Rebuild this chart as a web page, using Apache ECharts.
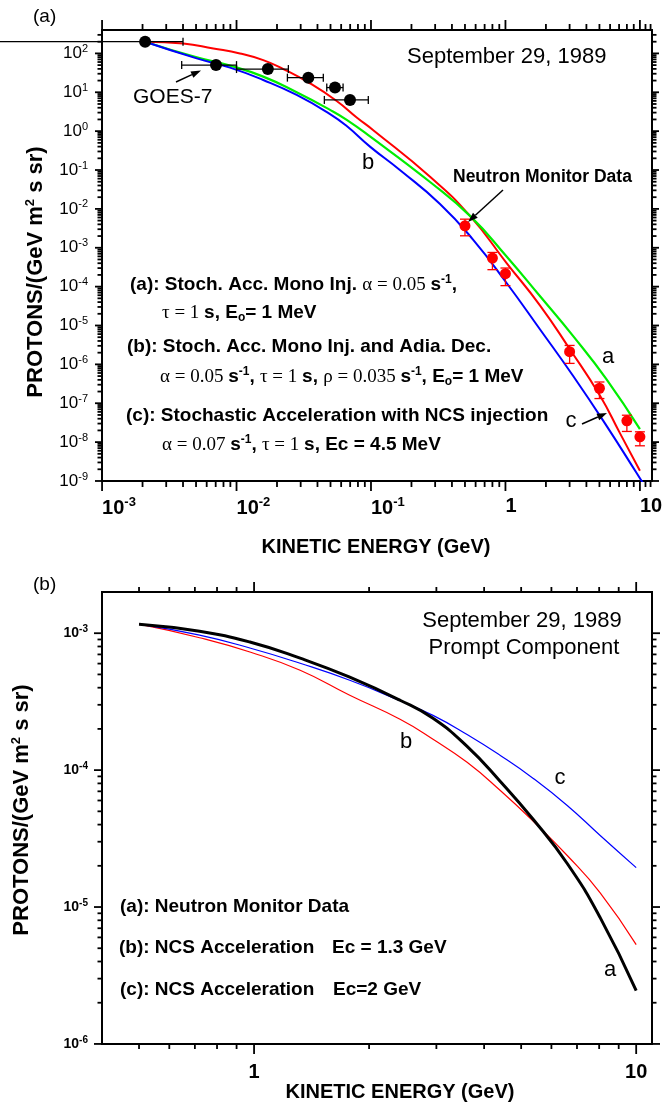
<!DOCTYPE html>
<html>
<head>
<meta charset="utf-8">
<script src="https://cdn.jsdelivr.net/npm/echarts@6/dist/echarts.min.js"></script>
<style>
html, body { margin: 0; padding: 0; background: #fff; }
#chart { width: 663px; height: 1106px; }
</style>
</head>
<body>
<div id="chart"></div>
<script>
// ===== panel (a) =====
// GOES-7 points with x error bars
var goesX   = [0.00209, 0.00704, 0.0171, 0.0342, 0.054, 0.0698];
var goesY   = [200, 50, 39.6, 23.8, 13.2, 6.35];
var goesXLo = [0.00017, 0.00391, 0.01, 0.0239, 0.0469, 0.045];
var goesXHi = [0.004, 0.01, 0.0243, 0.0442, 0.062, 0.0955];

// neutron monitor points with y error bars
var nmX   = [0.5, 0.8, 1.0, 3.0, 5.0, 8.0, 10.0];
var nmY   = [3.66e-3, 5.44e-4, 2.15e-4, 2.12e-6, 2.43e-7, 3.52e-8, 1.37e-8];
var nmYHi = [5.44e-3, 7.57e-4, 3.01e-4, 3.07e-6, 3.52e-7, 4.92e-8, 1.84e-8];
var nmYLo = [2.03e-3, 2.73e-4, 1.06e-4, 1.06e-6, 1.32e-7, 1.88e-8, 8.04e-9];

// model curves
var redAX = [0.00209, 0.00402, 0.00672, 0.0106, 0.0158, 0.0223, 0.0352, 0.0556, 0.0783, 0.104, 0.275, 0.545, 1.02, 1.81, 3.02, 5.04, 7.10, 10];
var redAY = [200, 180, 134, 100, 67.3, 39.6, 17.0, 5.98, 2.25, 1.06, 0.0673, 6.61e-3, 4.05e-4, 3.26e-5, 2.42e-6, 1.58e-7, 1.70e-8, 1.84e-9];
var greenAX = [0.00209, 0.00506, 0.00895, 0.0158, 0.0280, 0.0496, 0.0660, 0.0983, 0.275, 0.545, 1.02, 1.81, 3.19, 5.65, 10];
var greenAY = [200, 79, 48.4, 25.3, 10.0, 3.52, 1.95, 0.731, 0.0492, 6.61e-3, 5.98e-4, 5.64e-5, 5.32e-6, 4.12e-7, 2.15e-8];
var blueAX = [0.00209, 0.00506, 0.00895, 0.0158, 0.0280, 0.0496, 0.0660, 0.0983, 0.164, 0.326, 0.576, 1.02, 1.81, 3.19, 5.65, 9.45, 10.5];
var blueAY = [200, 74.5, 43.0, 20.7, 8.53, 2.75, 1.35, 0.40, 0.1, 0.0134, 1.60e-3, 1.24e-4, 7.89e-6, 5.01e-7, 2.62e-8, 1.6e-9, 9e-10];

var aXTicks  = [0.001, 0.01, 0.1, 1, 10];
var aXLabels = ['10^-3', '10^-2', '10^-1', '1', '10'];
var aYTicks  = [1e-9, 1e-8, 1e-7, 1e-6, 1e-5, 1e-4, 1e-3, 1e-2, 1e-1, 1, 10, 100];
var aYLabels = ['10^-9', '10^-8', '10^-7', '10^-6', '10^-5', '10^-4', '10^-3', '10^-2', '10^-1', '10^0', '10^1', '10^2'];

// ===== panel (b) =====
var blackBX = [0.5, 0.72, 0.98, 1.32, 1.78, 2.41, 2.94, 3.61, 4.41, 5.38, 6.6, 8.05, 10];
var blackBY = [1.164e-3, 1.034e-3, 8.59e-4, 6.57e-4, 4.77e-4, 3.24e-4, 2.39e-4, 1.49e-4, 8.27e-5, 4.36e-5, 2.08e-5, 8.37e-6, 2.45e-6];
var redBX = [0.5, 0.72, 0.98, 1.32, 1.78, 2.41, 2.94, 3.61, 4.41, 5.38, 6.6, 8.05, 10];
var redBY = [1.164e-3, 9.27e-4, 7.26e-4, 5.36e-4, 3.52e-4, 2.35e-4, 1.68e-4, 1.14e-4, 7.10e-5, 4.23e-5, 2.38e-5, 1.27e-5, 5.31e-6];
var blueBX = [0.5, 0.72, 0.98, 1.32, 1.78, 2.41, 2.94, 3.61, 4.41, 5.38, 6.6, 8.05, 10];
var blueBY = [1.164e-3, 9.67e-4, 7.77e-4, 6.03e-4, 4.53e-4, 3.21e-4, 2.51e-4, 1.82e-4, 1.28e-4, 8.70e-5, 5.52e-5, 3.33e-5, 1.94e-5];

var bXTicks  = [1, 10];
var bXLabels = ['1', '10'];
var bYTicks  = [1e-6, 1e-5, 1e-4, 1e-3];
var bYLabels = ['10^-6', '10^-5', '10^-4', '10^-3'];

var SANS = '"Liberation Sans", Arial, Helvetica, sans-serif';
var SERIF = '"Liberation Serif", "Times New Roman", serif';

function pairs(xs, ys) {
	return xs.map(function (x, i) { return [x, ys[i]]; });
}

// minor ticks 2..9 of each decade
function minors(e0, e1, extra) {
	var out = [];
	for (var e = e0; e <= e1; e++) {
		for (var k = 2; k <= 9; k++) out.push(+(k * Math.pow(10, e)).toPrecision(3));
	}
	return out.concat(extra || []);
}

function labelFmt(ticks, labels) {
	return function (v) {
		var i = ticks.findIndex(function (t) { return Math.abs(Math.log10(t / v)) < 0.01; });
		if (i < 0) return '';
		var p = labels[i].split('^');
		return p.length > 1 ? '{b|' + p[0] + '}{s|' + p[1] + '}' : '{b|' + p[0] + '}';
	};
}

function mkAxis(grid, pos, min, max, values, label) {
	return {
		type: 'log', logBase: 10, gridIndex: grid, position: pos,
		min: min, max: max,
		axisLine: { show: false, onZero: false },
		axisTick: { show: false },
		axisLabel: Object.assign({ show: true, customValues: values }, label),
		splitLine: { show: false },
		minorTick: { show: false },
		minorSplitLine: { show: false }
	};
}

var aXMin = 0.000999, aXMax = 12.3, aYMin = 0.999e-9, aYMax = 400;
var bXMin = 0.4, bXMax = 11, bYMin = 0.999e-6, bYMax = 2e-3;

var aXLabelOpt = {
	margin: 15, align: 'left', formatter: labelFmt(aXTicks, aXLabels),
	rich: {
		b: { fontFamily: SANS, fontWeight: 'bold', fontSize: 20, color: '#000' },
		s: { fontFamily: SANS, fontWeight: 'bold', fontSize: 13, color: '#000', padding: [0, 0, 11, 0] }
	}
};
var aYLabelOpt = {
	margin: 14, formatter: labelFmt(aYTicks, aYLabels),
	rich: {
		b: { fontFamily: SANS, fontSize: 17, color: '#000' },
		s: { fontFamily: SANS, fontSize: 11, color: '#000', padding: [0, 0, 9, 0] }
	}
};
var bXLabelOpt = {
	margin: 18, formatter: labelFmt(bXTicks, bXLabels),
	rich: { b: { fontFamily: SANS, fontWeight: 'bold', fontSize: 20, color: '#000' } }
};
var bYLabelOpt = {
	margin: 14, formatter: labelFmt(bYTicks, bYLabels),
	rich: {
		b: { fontFamily: SANS, fontWeight: 'bold', fontSize: 14, color: '#000' },
		s: { fontFamily: SANS, fontWeight: 'bold', fontSize: 10, color: '#000', padding: [0, 0, 8, 0] }
	}
};

function curve(ai, xs, ys, color, width) {
	return {
		type: 'line', xAxisIndex: ai, yAxisIndex: ai, data: pairs(xs, ys),
		showSymbol: false, smooth: 0.5, z: 3,
		lineStyle: { color: color, width: width }, itemStyle: { color: color }
	};
}

function txt(x, y, text, opt) {
	return {
		type: 'text', x: x, y: y, z: 50,
		style: Object.assign({
			text: text, fill: '#000', fontFamily: SANS, fontSize: 22,
			align: 'left', verticalAlign: 'middle'
		}, opt || {})
	};
}

function seg(x1, y1, x2, y2, w) {
	return { type: 'line', z: 50, shape: { x1: x1, y1: y1, x2: x2, y2: y2 },
		style: { stroke: '#000', lineWidth: w || 1.5 } };
}

function arrow(x1, y1, x2, y2) {
	var ang = Math.atan2(y2 - y1, x2 - x1), L = 10, W = 3.5;
	var bx = x2 - L * Math.cos(ang), by = y2 - L * Math.sin(ang);
	var nx = -Math.sin(ang) * W, ny = Math.cos(ang) * W;
	return [
		seg(x1, y1, bx, by, 1.5),
		{ type: 'polygon', z: 50, shape: { points: [[x2, y2], [bx + nx, by + ny], [bx - nx, by - ny]] }, style: { fill: '#000' } }
	];
}

var annRich = {
	b: { fontFamily: SANS, fontWeight: 'bold', fontSize: 19 },
	g: { fontFamily: SERIF, fontSize: 19 },
	s: { fontFamily: SANS, fontWeight: 'bold', fontSize: 12, padding: [0, 0, 10, 0] },
	o: { fontFamily: SANS, fontWeight: 'bold', fontSize: 12, padding: [10, 0, 0, 0] }
};
var titleRich = {
	t: { fontFamily: SANS, fontWeight: 'bold', fontSize: 22 },
	s: { fontFamily: SANS, fontWeight: 'bold', fontSize: 13, padding: [0, 0, 12, 0] }
};

var graphics = [
	txt(33, 17, '(a)', { fontSize: 19 }),
	txt(33, 585, '(b)', { fontSize: 19 }),
	txt(407, 57, 'September 29, 1989'),
	txt(133, 97, 'GOES-7', { fontSize: 21 }),
	txt(368, 163, 'b', { align: 'center' }),
	txt(453, 177, 'Neutron Monitor Data', { fontWeight: 'bold', fontSize: 17.5 }),
	txt(608, 357, 'a', { align: 'center' }),
	txt(571, 421, 'c', { align: 'center' }),
	txt(130, 285, '{b|(a): Stoch. Acc. Mono Inj. }{g|α = 0.05 }{b|s}{s|-1}{b|,}', { rich: annRich }),
	txt(162, 313, '{g|τ = 1 }{b|s, E}{o|o}{b|= 1 MeV}', { rich: annRich }),
	txt(127, 347, '{b|(b): Stoch. Acc. Mono Inj. and Adia. Dec.}', { rich: annRich }),
	txt(160, 377, '{g|α = 0.05 }{b|s}{s|-1}{b|, }{g|τ = 1 }{b|s, }{g|ρ = 0.035 }{b|s}{s|-1}{b|, E}{o|o}{b|= 1 MeV}', { rich: annRich }),
	txt(126, 416, '{b|(c): Stochastic Acceleration with NCS injection}', { rich: annRich }),
	txt(162, 445, '{g|α = 0.07 }{b|s}{s|-1}{b|, }{g|τ = 1 }{b|s, Ec = 4.5 MeV}', { rich: annRich }),
	txt(376, 547, 'KINETIC ENERGY (GeV)', { fontWeight: 'bold', fontSize: 20, align: 'center' }),
	{ type: 'text', x: 36, y: 272, rotation: Math.PI / 2, z: 50,
	  style: { text: '{t|PROTONS/(GeV m}{s|2}{t| s sr)}', rich: titleRich, fill: '#000', align: 'center', verticalAlign: 'middle' } },

	txt(522, 621, 'September 29, 1989', { align: 'center' }),
	txt(524, 648, 'Prompt Component', { align: 'center' }),
	txt(406, 742, 'b', { align: 'center' }),
	txt(560, 778, 'c', { align: 'center' }),
	txt(610, 970, 'a', { align: 'center' }),
	txt(120, 907, '(a): Neutron Monitor Data', { fontWeight: 'bold', fontSize: 19 }),
	txt(119, 948, '(b): NCS Acceleration', { fontWeight: 'bold', fontSize: 19 }),
	txt(332, 948, 'Ec = 1.3 GeV', { fontWeight: 'bold', fontSize: 19 }),
	txt(120, 990, '(c): NCS Acceleration', { fontWeight: 'bold', fontSize: 19 }),
	txt(333, 990, 'Ec=2 GeV', { fontWeight: 'bold', fontSize: 19 }),
	txt(400, 1092, 'KINETIC ENERGY (GeV)', { fontWeight: 'bold', fontSize: 20, align: 'center' }),
	{ type: 'text', x: 22, y: 810, rotation: Math.PI / 2, z: 50,
	  style: { text: '{t|PROTONS/(GeV m}{s|2}{t| s sr)}', rich: titleRich, fill: '#000', align: 'center', verticalAlign: 'middle' } }
].concat(arrow(176, 82, 201, 70.5), arrow(503, 190, 468, 222), arrow(582, 424, 607, 413));

var bXMinor = [0.5, 0.6, 0.7, 0.8, 0.9].concat(minors(0, 0));

// tick rows: [x, y, length, side]; side 0 = tick on the x axes, side 1 = tick on the y axes
function tickRows(xMaj, xMin, yMaj, yMin, len, xRef, yRef) {
	var d = [];
	xMaj.forEach(function (v) { d.push([v, yRef, len[0], 0]); });
	xMin.forEach(function (v) { d.push([v, yRef, len[1], 0]); });
	yMaj.forEach(function (v) { d.push([xRef, v, len[2], 1]); });
	yMin.forEach(function (v) { d.push([xRef, v, len[3], 1]); });
	return d;
}

// outward ticks on all four sides of a grid
function tickSeries(ai, rows) {
	return {
		type: 'custom', xAxisIndex: ai, yAxisIndex: ai, clip: false, z: 6,
		data: rows,
		encode: { x: 0, y: 1 },
		renderItem: function (params, api) {
			var cs = params.coordSys;
			var p = api.coord([api.value(0), api.value(1)]);
			var len = api.value(2), side = api.value(3);
			var st = { stroke: '#000', lineWidth: 1.8 };
			var x0 = cs.x, x1 = cs.x + cs.width, y0 = cs.y, y1 = cs.y + cs.height;
			if (side === 0) {
				if (p[0] < x0 - 0.5 || p[0] > x1 + 0.5) return null;
				return { type: 'group', children: [
					{ type: 'line', shape: { x1: p[0], y1: y1, x2: p[0], y2: y1 + len }, style: st },
					{ type: 'line', shape: { x1: p[0], y1: y0, x2: p[0], y2: y0 - len }, style: st }
				] };
			}
			if (p[1] < y0 - 0.5 || p[1] > y1 + 0.5) return null;
			return { type: 'group', children: [
				{ type: 'line', shape: { x1: x0, y1: p[1], x2: x0 - len, y2: p[1] }, style: st },
				{ type: 'line', shape: { x1: x1, y1: p[1], x2: x1 + len, y2: p[1] }, style: st }
			] };
		}
	};
}

var option = {
	animation: false,
	backgroundColor: '#fff',
	grid: [
		{ left: 102, top: 30, width: 550, height: 451, show: true, borderColor: '#000', borderWidth: 2,
		  backgroundColor: 'transparent', containLabel: false, outerBoundsMode: 'none' },
		{ left: 102, top: 592, width: 550, height: 452, show: true, borderColor: '#000', borderWidth: 2,
		  backgroundColor: 'transparent', containLabel: false, outerBoundsMode: 'none' }
	],
	xAxis: [
		mkAxis(0, 'bottom', aXMin, aXMax, aXTicks, aXLabelOpt),
		mkAxis(1, 'bottom', bXMin, bXMax, bXTicks, bXLabelOpt)
	],
	yAxis: [
		mkAxis(0, 'left', aYMin, aYMax, aYTicks, aYLabelOpt),
		mkAxis(1, 'left', bYMin, bYMax, bYTicks, bYLabelOpt)
	],
	graphic: graphics,
	series: [
		tickSeries(0, tickRows(aXTicks, minors(-3, 0, [11, 12]), aYTicks, minors(-9, 1, [200, 300]), [10, 6, 7, 4.5], 1, 1)),
		tickSeries(1, tickRows(bXTicks, bXMinor, bYTicks, minors(-6, -4), [10, 5, 8, 4.5], 1, 1e-4)),
		curve(0, redAX, redAY, '#ff0000', 2),
		curve(0, greenAX, greenAY, '#00ee00', 2.2),
		curve(0, blueAX, blueAY, '#0000ff', 2),
		{
			type: 'custom', xAxisIndex: 0, yAxisIndex: 0, clip: false, z: 4,
			data: goesX.map(function (x, i) { return [x, goesY[i], goesXLo[i], goesXHi[i]]; }),
			encode: { x: 0, y: 1 },
			renderItem: function (params, api) {
				var p1 = api.coord([api.value(2), api.value(1)]);
				var p2 = api.coord([api.value(3), api.value(1)]);
				var st = { stroke: '#000', lineWidth: 1.3 };
				return { type: 'group', children: [
					{ type: 'line', shape: { x1: p1[0], y1: p1[1], x2: p2[0], y2: p2[1] }, style: st },
					{ type: 'line', shape: { x1: p1[0], y1: p1[1] - 4, x2: p1[0], y2: p1[1] + 4 }, style: st },
					{ type: 'line', shape: { x1: p2[0], y1: p2[1] - 4, x2: p2[0], y2: p2[1] + 4 }, style: st }
				] };
			}
		},
		{
			type: 'scatter', xAxisIndex: 0, yAxisIndex: 0, z: 5,
			data: pairs(goesX, goesY), symbol: 'circle', symbolSize: 12,
			itemStyle: { color: '#000', opacity: 1 }
		},
		{
			type: 'custom', xAxisIndex: 0, yAxisIndex: 0, z: 4,
			data: nmX.map(function (x, i) { return [x, nmY[i], nmYLo[i], nmYHi[i]]; }),
			encode: { x: 0, y: 1 },
			renderItem: function (params, api) {
				var p1 = api.coord([api.value(0), api.value(2)]);
				var p2 = api.coord([api.value(0), api.value(3)]);
				var st = { stroke: '#ff0000', lineWidth: 1.3 };
				return { type: 'group', children: [
					{ type: 'line', shape: { x1: p1[0], y1: p1[1], x2: p2[0], y2: p2[1] }, style: st },
					{ type: 'line', shape: { x1: p1[0] - 5, y1: p1[1], x2: p1[0] + 5, y2: p1[1] }, style: st },
					{ type: 'line', shape: { x1: p2[0] - 5, y1: p2[1], x2: p2[0] + 5, y2: p2[1] }, style: st }
				] };
			}
		},
		{
			type: 'scatter', xAxisIndex: 0, yAxisIndex: 0, z: 5,
			data: pairs(nmX, nmY), symbol: 'circle', symbolSize: 11,
			itemStyle: { color: '#ff0000', opacity: 1 }
		},
		curve(1, redBX, redBY, '#ff0000', 1.2),
		curve(1, blueBX, blueBY, '#0000ff', 1.2),
		curve(1, blackBX, blackBY, '#000000', 3)
	]
};

var chart = echarts.init(document.getElementById('chart'));
chart.setOption(option);
</script>
</body>
</html>
